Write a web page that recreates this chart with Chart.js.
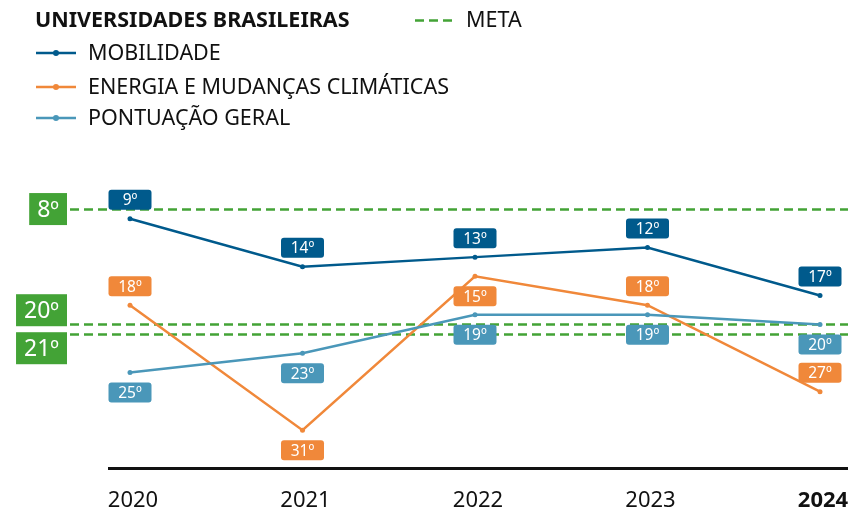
<!DOCTYPE html>
<html>
<head>
<meta charset="utf-8">
<script src="https://cdn.jsdelivr.net/npm/chart.js@4.4.1/dist/chart.umd.min.js"></script>
<style>
  body { margin: 0; background: #fff; }
  #wrap { width: 848px; height: 510px; }
</style>
</head>
<body>
<div id="wrap"><canvas id="myChart" width="848" height="510"></canvas></div>
<script>
// Dados do ranking (posição: quanto menor, melhor)
const anos = ['2020', '2021', '2022', '2023', '2024'];
const mobilidade = [9, 14, 13, 12, 17];
const energia = [18, 31, 15, 18, 27];
const pontuacao = [25, 23, 19, 19, 20];
const metas = [8, 20, 21];

const FONTE = "'Noto Sans', 'DejaVu Sans', sans-serif";
const AZUL = '#005a8c';
const LARANJA = '#f0883a';
const AZUL_CLARO = '#4a97b9';
const VERDE = '#43a336';

const ctx = document.getElementById('myChart').getContext('2d');

function caixa(c, x, y, w, h, r) {
    c.beginPath();
    c.moveTo(x + r, y);
    c.lineTo(x + w - r, y);
    c.quadraticCurveTo(x + w, y, x + w, y + r);
    c.lineTo(x + w, y + h - r);
    c.quadraticCurveTo(x + w, y + h, x + w - r, y + h);
    c.lineTo(x + r, y + h);
    c.quadraticCurveTo(x, y + h, x, y + h - r);
    c.lineTo(x, y + r);
    c.quadraticCurveTo(x, y, x + r, y);
    c.closePath();
}

// Linhas de meta tracejadas + etiquetas verdes à esquerda
const metaPlugin = {
    id: 'metas',
    beforeDatasetsDraw(chart) {
        const c = chart.ctx;
        const y = chart.scales.y;
        c.save();
        c.strokeStyle = VERDE;
        c.lineWidth = 2.5;
        c.setLineDash([9, 5]);
        metas.forEach(m => {
            const py = Math.round(y.getPixelForValue(m)) + 0.5;
            c.beginPath();
            c.moveTo(70, py);
            c.lineTo(chart.width, py);
            c.stroke();
        });
        c.setLineDash([]);

        // posições das etiquetas, afastando as que se sobrepõem
        const alt = 32, gap = 6;
        const pos = metas.map(m => y.getPixelForValue(m));
        for (let i = 1; i < pos.length; i++) {
            if (pos[i] - pos[i - 1] < alt + gap) {
                const meio = (pos[i] + pos[i - 1]) / 2;
                pos[i - 1] = meio - (alt + gap) / 2;
                pos[i] = meio + (alt + gap) / 2;
            }
        }
        c.font = '23px ' + FONTE;
        c.textBaseline = 'middle';
        c.textAlign = 'center';
        metas.forEach((m, i) => {
            const txt = m + 'º';
            const w = c.measureText(txt).width + 16;
            c.fillStyle = VERDE;
            c.fillRect(67 - w, pos[i] - alt / 2, w, alt);
            c.fillStyle = '#fff';
            c.fillText(txt, 67 - w / 2, pos[i] + 1);
        });

        // linha do eixo x
        c.strokeStyle = '#111';
        c.lineWidth = 3;
        c.beginPath();
        c.moveTo(108, chart.chartArea.bottom);
        c.lineTo(chart.width, chart.chartArea.bottom);
        c.stroke();
        c.restore();
    }
};

// Rótulos das posições em caixinhas coloridas
const rotuloPlugin = {
    id: 'rotulos',
    afterDatasetsDraw(chart) {
        const c = chart.ctx;
        c.save();
        c.font = '15.5px ' + FONTE;
        c.textAlign = 'center';
        c.textBaseline = 'middle';
        chart.data.datasets.forEach((ds, i) => {
            const meta = chart.getDatasetMeta(i);
            meta.data.forEach((pt, j) => {
                const w = 43, h = 20;
                let cx = pt.x;
                if (cx + w / 2 > chart.width) cx = chart.width - w / 2;
                const cy = ds.lado[j] === 'cima' ? pt.y - 19 : pt.y + 20;
                c.fillStyle = ds.borderColor;
                caixa(c, cx - w / 2, cy - h / 2, w, h, 3);
                c.fill();
                c.fillStyle = '#fff';
                c.fillText(ds.data[j] + 'º', cx, cy + 1);
            });
        });
        c.restore();
    }
};

// Legenda desenhada à mão no topo
const legendaPlugin = {
    id: 'legenda',
    afterDraw(chart) {
        const c = chart.ctx;
        c.save();
        c.textBaseline = 'middle';
        c.textAlign = 'left';
        c.fillStyle = '#111';
        c.font = 'bold 21.5px ' + FONTE;
        c.fillText('UNIVERSIDADES BRASILEIRAS', 35, 21);

        c.strokeStyle = VERDE;
        c.lineWidth = 2.5;
        c.setLineDash([9, 5]);
        c.beginPath();
        c.moveTo(415, 20.5);
        c.lineTo(457, 20.5);
        c.stroke();
        c.setLineDash([]);
        c.font = '21.5px ' + FONTE;
        c.fillText('META', 466, 21);

        const itens = [['MOBILIDADE', AZUL, 53], ['ENERGIA E MUDANÇAS CLIMÁTICAS', LARANJA, 87], ['PONTUAÇÃO GERAL', AZUL_CLARO, 118]];
        itens.forEach(([txt, cor, y]) => {
            c.strokeStyle = cor;
            c.fillStyle = cor;
            c.lineWidth = 2.5;
            c.beginPath();
            c.moveTo(36, y);
            c.lineTo(76, y);
            c.stroke();
            c.beginPath();
            c.arc(56, y, 3, 0, Math.PI * 2);
            c.fill();
            c.fillStyle = '#111';
            c.fillText(txt, 88, y + 1);
        });
        c.restore();
    }
};

function serie(label, data, cor, lado) {
    return {
        label: label,
        data: data,
        borderColor: cor,
        backgroundColor: cor,
        borderWidth: 2.5,
        pointRadius: 2.5,
        pointBorderWidth: 0,
        pointBackgroundColor: cor,
        tension: 0,
        lado: lado
    };
}

const myChart = new Chart(ctx, {
    type: 'line',
    data: {
        labels: anos,
        datasets: [
            serie('PONTUAÇÃO GERAL', pontuacao, AZUL_CLARO, ['baixo', 'baixo', 'baixo', 'baixo', 'baixo']),
            serie('ENERGIA E MUDANÇAS CLIMÁTICAS', energia, LARANJA, ['cima', 'baixo', 'baixo', 'cima', 'cima']),
            serie('MOBILIDADE', mobilidade, AZUL, ['cima', 'cima', 'cima', 'cima', 'cima'])
        ]
    },
    options: {
        responsive: false,
        devicePixelRatio: 1,
        animation: false,
        layout: { padding: { top: 161, left: 130, right: 28, bottom: -23 } },
        plugins: {
            legend: { display: false },
            tooltip: { enabled: false }
        },
        scales: {
            y: {
                display: false,
                reverse: true,
                min: 3,
                max: 35
            },
            x: {
                offset: false,
                grid: { display: false, drawTicks: false },
                border: { display: false },
                afterFit: s => { s.paddingLeft = 0; s.paddingRight = 0; },
                ticks: {
                    color: '#111',
                    padding: 19,
                    labelOffset: 3,
                    font: c => ({ family: FONTE, size: 22, weight: c.index === 4 ? 'bold' : 'normal' })
                }
            }
        }
    },
    plugins: [metaPlugin, rotuloPlugin, legendaPlugin]
});
</script>
</body>
</html>
